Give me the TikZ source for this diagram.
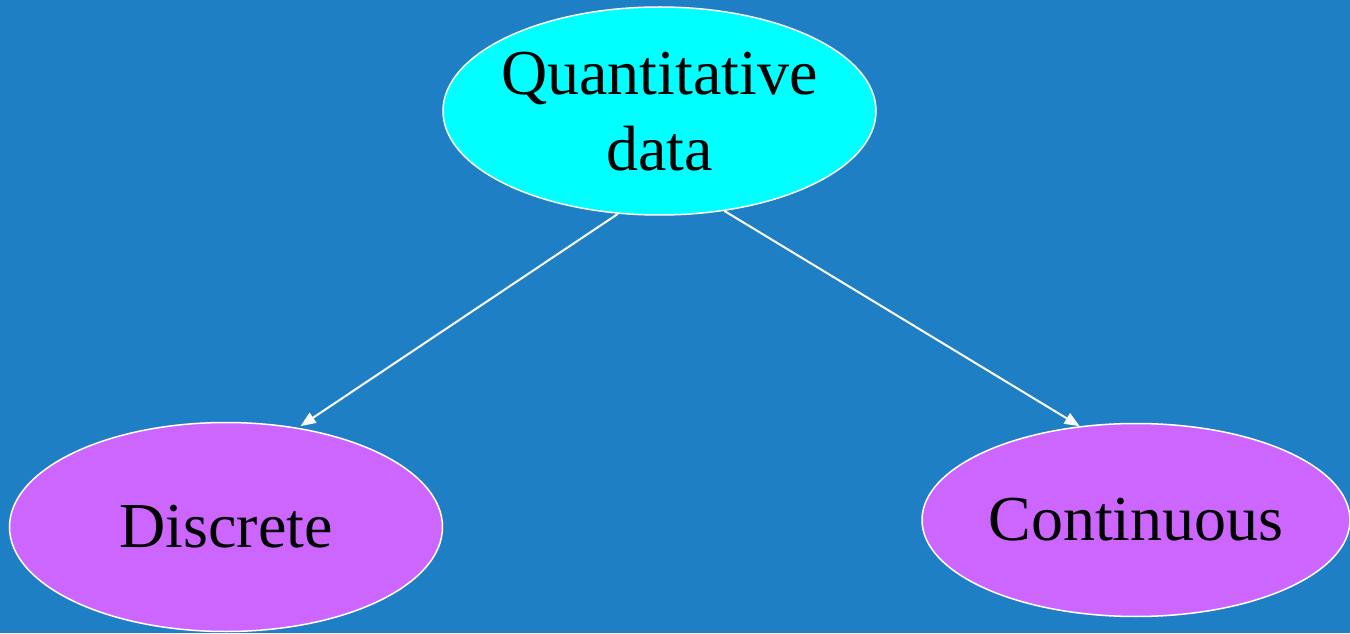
\documentclass[tikz,border=0pt]{standalone}
\usepackage{fontspec}
\setmainfont{Liberation Serif}
\usepackage{xcolor}
\usetikzlibrary{arrows.meta,shapes.geometric}
\definecolor{bgblue}{HTML}{1E7FC5}
\definecolor{topcyan}{HTML}{00FFFF}
\definecolor{leafviolet}{HTML}{CC66FF}
\tikzset{
  blob/.style={ellipse, draw=white, line width=1.5pt, fill=#1,
               inner sep=0pt, align=center, text=black,
               font=\fontsize{64}{76}\selectfont},
  arr/.style={-{Triangle[length=15pt, width=12pt]}, line width=2pt, draw=white},
}

\begin{document}
\begin{tikzpicture}[x=1pt, y=1pt]
  \fill[bgblue] (0,0) rectangle (1350,633);
  \useasboundingbox (0,0) rectangle (1350,633);
  \node[blob=topcyan, inner xsep=-12pt, text depth=0pt, minimum width=433pt, minimum height=208pt] (quant) at (659.5,522) {Quantitative\\data};
  \node[blob=leafviolet, minimum width=433pt, minimum height=209pt] (disc) at (226,106) {Discrete};
  \node[blob=leafviolet, minimum width=428pt, minimum height=193pt] (cont) at (1136,113) {Continuous};
  \draw[arr, shorten >=3pt] (quant.248) -- (disc.54);
  \draw[arr] (quant.303) -- (cont.121);
\end{tikzpicture}
\end{document}
